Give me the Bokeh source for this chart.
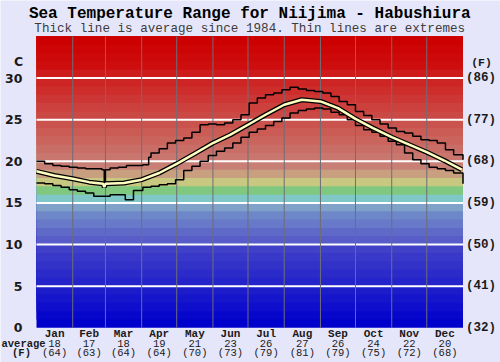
import numpy as np
from bokeh.plotting import figure
from bokeh.embed import file_html
from bokeh.resources import INLINE
from bokeh.core.properties import value

# ---------------- data ----------------
months = ["Jan", "Feb", "Mar", "Apr", "May", "Jun", "Jul", "Aug", "Sep", "Oct", "Nov", "Dec"]
month_start = [0, 31, 59, 90, 120, 151, 181, 212, 243, 273, 304, 334, 365]
avg_c = [18, 17, 18, 19, 21, 23, 26, 27, 26, 24, 22, 20]
avg_f = [64, 63, 64, 64, 70, 73, 79, 81, 79, 75, 72, 68]

c_ticks = [0, 5, 10, 15, 20, 25, 30]
f_labels = ["(32)", "(41)", "(50)", "(59)", "(68)", "(77)", "(86)"]

avg_days = [0, 15, 31, 45, 57, 58, 59, 75, 90, 105, 120, 135, 151, 166, 181, 196, 212,
            227, 243, 258, 273, 288, 304, 319, 334, 349, 364]
avg_vals = [18.8, 18.3, 17.9, 17.5, 17.3, 16.9, 17.3, 17.4, 17.8, 18.6, 19.7, 20.9, 22.2, 23.2,
            24.4, 25.6, 26.8, 27.4, 27.2, 26.4, 25.1, 24.0, 22.9, 22.0, 21.1, 20.1, 19.0]

max_days = [0, 7, 14, 21, 28, 35, 42, 49, 56, 58, 59, 63, 70, 77, 84, 91, 96, 98,
            105, 112, 119, 126, 133, 140, 147, 154, 161, 168, 175, 182, 189, 196, 203,
            210, 217, 224, 231, 238, 245, 252, 259, 266, 273, 280, 287, 294, 301, 308,
            315, 322, 329, 336, 343, 350, 357, 365]
max_vals = [20.0, 19.7, 19.5, 19.4, 19.3, 19.2, 19.1, 19.1, 19.0, 17.2, 19.0, 19.2, 19.3,
            19.5, 19.5, 19.6, 20.5, 21.0,
            21.5, 22.2, 22.5, 22.8, 23.5, 24.4, 24.5, 24.4, 24.6, 25.0, 25.6, 27.0, 27.6,
            28.0, 28.2, 28.6, 28.9, 28.7, 28.5, 28.4, 28.2, 27.8, 27.2, 26.8, 26.0, 25.5,
            25.0, 24.5, 24.0, 23.6, 23.4, 23.0, 22.6, 22.5, 22.2, 21.4, 20.8, 20.2]

min_days = [0, 7, 14, 21, 28, 35, 42, 49, 56, 63, 70, 76, 83,
            91, 98, 105, 112, 119, 126, 133, 140, 147, 154, 161, 168, 175, 182, 189, 196,
            203, 210, 217, 224, 231, 238, 245, 252, 259, 266, 273, 280, 287, 294, 301,
            308, 315, 322, 329, 336, 343, 350, 357, 365]
min_vals = [17.4, 17.3, 17.1, 16.9, 16.6, 16.4, 16.2, 15.8, 15.8, 16.0, 16.0, 15.4, 16.5,
            16.9, 17.0, 17.2, 17.3, 17.8, 18.9, 19.4, 20.0, 20.7, 21.2, 21.6, 22.2, 22.9,
            23.5, 23.9, 24.3, 24.8, 25.2, 25.8, 26.1, 26.3, 26.4, 26.3, 25.9, 25.6, 25.0,
            24.3, 23.8, 23.5, 23.0, 22.4, 22.0, 21.0, 20.2, 19.7, 19.3, 19.1, 18.9, 18.6,
            17.3]

# ---------------- layout / style ----------------
W, H = 500, 362
PX_L, PX_R = 36.0, 462.5
PX_TOP, PX_BOT = 36.0, 327.3
T_MIN, T_MAX = 0, 35
DAYS = 365
kx = (PX_R - PX_L) / DAYS
ky = (PX_BOT - PX_TOP) / (T_MAX - T_MIN)
x_range = (-PX_L / kx, DAYS + (W - PX_R) / kx)
y_range = (T_MIN - (H - PX_BOT) / ky, T_MAX + PX_TOP / ky)

BG = "#E6E6FA"
MONO = value("Liberation Mono")
SANS = value("DejaVu Sans")


def lerp(c0, c1, f):
    return tuple(int(round(a + (b - a) * f)) for a, b in zip(c0, c1))


def band_color(t):
    if t < 10:
        return lerp((0, 0, 205), (64, 64, 200), t / 9.0)
    if t < 14:
        return lerp((88, 92, 200), (110, 135, 200), (t - 10) / 3.0)
    fixed = {14: (128, 162, 200), 15: (128, 200, 200), 16: (128, 200, 128),
             17: (200, 200, 128), 18: (200, 160, 128)}
    if t in fixed:
        return fixed[t]
    if t >= 31:
        return lerp((206, 14, 14), (204, 0, 0), (t - 31) / 3.0)
    return lerp((200, 128, 118), (206, 28, 28), (t - 19) / 11.0)


bands = list(range(T_MIN, T_MAX))
band_cols = ["#%02x%02x%02x" % band_color(t) for t in bands]

p = figure(width=W, height=H, x_range=x_range, y_range=y_range,
           x_axis_type=None, y_axis_type=None, toolbar_location=None,
           output_backend="svg", min_border=0, background_fill_color=BG,
           border_fill_color=BG, outline_line_color=None)

# colour bands (each drawn up to the top so that no seams remain)
p.quad(left=0, right=DAYS, bottom=bands, top=[T_MAX] * len(bands),
       fill_color=band_cols, line_color=None)

# white horizontal grid
gl = [t for t in c_ticks if t > 0]
p.segment(x0=[0] * len(gl), x1=[DAYS] * len(gl), y0=gl, y1=gl,
          line_color="white", line_width=2)

# month separators
ms = month_start[1:-1]
p.segment(x0=ms, x1=ms, y0=[T_MIN] * len(ms), y1=[T_MAX] * len(ms),
          line_color="#6e6e78", line_width=1)

# extremes
p.step(max_days, max_vals, mode="after", line_color="black", line_width=1.5)
p.step(min_days, min_vals, mode="after", line_color="black", line_width=1.5)

# average
p.line(avg_days, avg_vals, line_color="black", line_width=5)
p.line(avg_days, avg_vals, line_color="#FFFFC0", line_width=2.5)

# left axis (C)
p.text(x=[0] * len(c_ticks), y=c_ticks, text=[str(t) for t in c_ticks],
       x_offset=-14, text_align="right", text_baseline="middle",
       text_font=SANS, text_font_style="bold", text_font_size="12.5px", text_color="#1a1a1a")
p.text(x=[0], y=[T_MAX], text=["C"], x_offset=-18, y_offset=25, text_align="center",
       text_baseline="middle", text_font=SANS, text_font_style="bold",
       text_font_size="12.5px", text_color="#1a1a1a")

# right axis (F)
p.text(x=[DAYS] * len(c_ticks), y=c_ticks, text=f_labels, x_offset=3,
       text_align="left", text_baseline="middle", text_font=MONO,
       text_font_style="bold", text_font_size="12.5px", text_color="#1a1a1a")
p.text(x=[DAYS], y=[T_MAX], text=["(F)"], x_offset=18.5, y_offset=26, text_align="center",
       text_baseline="middle", text_font=MONO, text_font_style="bold",
       text_font_size="11.5px", text_color="#1a1a1a")

# bottom month rows
mids = [(month_start[i] + month_start[i + 1]) / 2 for i in range(12)]
p.text(x=mids, y=[T_MIN] * 12, text=months, y_offset=6.5, text_align="center",
       text_baseline="middle", text_font=MONO, text_font_style="bold",
       text_font_size="11px", text_color="#1a1a1a")
p.text(x=mids, y=[T_MIN] * 12, text=[str(v) for v in avg_c], y_offset=16,
       text_align="center", text_baseline="middle", text_font=MONO,
       text_font_size="10.5px", text_color="#1a1a1a")
p.text(x=mids, y=[T_MIN] * 12, text=["(%d)" % v for v in avg_f], y_offset=25.5,
       text_align="center", text_baseline="middle", text_font=MONO,
       text_font_size="10.5px", text_color="#1a1a1a")
p.text(x=[0], y=[T_MIN], text=["average"], x_offset=-35, y_offset=16,
       text_align="left", text_baseline="middle", text_font=MONO,
       text_font_style="bold", text_font_size="10.5px", text_color="#1a1a1a")
p.text(x=[0], y=[T_MIN], text=["(F)"], x_offset=-15, y_offset=25.5,
       text_align="center", text_baseline="middle", text_font=MONO,
       text_font_style="bold", text_font_size="10.5px", text_color="#1a1a1a")

# titles
p.text(x=[DAYS / 2], y=[T_MAX], text=["Sea Temperature Range for Niijima - Habushiura"],
       y_offset=-23, text_align="center", text_baseline="middle", text_font=MONO,
       text_font_style="bold", text_font_size="16px", text_color="black")
p.text(x=[DAYS / 2], y=[T_MAX],
       text=["Thick line is average since 1984. Thin lines are extremes"],
       y_offset=-8, text_align="center", text_baseline="middle", text_font=MONO,
       text_font_size="12.6px", text_color="#3c3c3c")

html = file_html(p, INLINE)
html = html.replace("<head>", "<head><style>html,body{margin:0;padding:0;}</style>", 1)
open("out.html", "w").write(html)
